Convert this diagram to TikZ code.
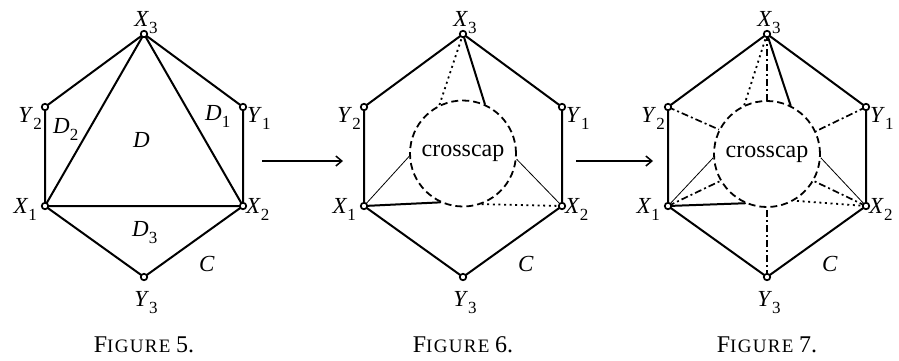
\documentclass[tikz,border=0pt]{standalone}
\usepackage{fontspec}
\setmainfont{Liberation Serif}
\usetikzlibrary{arrows.meta}
\newcommand\vlab[2]{\textit{#1}\raisebox{-7pt}{\fontsize{17}{17}\selectfont #2}}
\newcommand\figcap[1]{{\fontsize{24}{25}\selectfont F}{\fontsize{19}{20}\selectfont\addfontfeature{LetterSpace=7}IGURE} {\fontsize{24}{25}\selectfont #1.}}
\tikzset{
  hexline/.style={line width=2pt, line join=round, line cap=round},
  thinl/.style={line width=0.8pt},
  dotl/.style={line width=1.8pt, dash pattern=on 2pt off 3.6pt},
  dashdotl/.style={line width=1.7pt, dash pattern=on 7pt off 3pt on 2pt off 3pt},
  capcircle/.style={circle, draw, line width=1.8pt, dash pattern=on 7pt off 4pt, minimum size=106pt, inner sep=0pt, font=\fontsize{24}{26}\selectfont},
  vtx/.style={circle, draw, fill=white, line width=1.7pt, minimum size=6.5pt, inner sep=0pt},
  lab/.style={font=\fontsize{23}{25}\selectfont, inner sep=0pt},
  arr/.style={line width=1.5pt, -{Straight Barb[length=6pt,width=10pt,line width=1.5pt]}}
}
\begin{document}
\begin{tikzpicture}[x=1pt,y=-1pt]
\useasboundingbox (0,0) rectangle (899,360);
% ---------- vertex coordinates ----------
\foreach \f/\cx in {a/144,b/463,c/767}{
  \coordinate (\f X3) at (\cx,34);
  \coordinate (\f Y1) at (\cx+99,107);
  \coordinate (\f X2) at (\cx+99,206);
  \coordinate (\f Y3) at (\cx,277);
  \coordinate (\f X1) at (\cx-99,206);
  \coordinate (\f Y2) at (\cx-99,107);
}
% ---------- Figure 5 ----------
\draw[hexline] (aX3) -- (aY1) -- (aX2) -- (aY3) -- (aX1) -- (aY2) -- cycle;
\draw[hexline] (aX1) -- (aX2) -- (aX3) -- cycle;
\node[lab, anchor=base west] (aD2) at (53,133) {\vlab{D}{2}};
\node[lab, anchor=base west] (aD) at (133,147) {\textit{D}};
\node[lab, anchor=base west] (aD1) at (205,120) {\vlab{D}{1}};
\node[lab, anchor=base west] (aD3) at (132,236) {\vlab{D}{3}};
% ---------- Figure 6 ----------
\node[capcircle] (cb) at (463,153.5) {crosscap};
\draw[hexline] (bX3) -- (bY1) -- (bX2) -- (bY3) -- (bX1) -- (bY2) -- cycle;
\draw[dotl] (bX3) -- (cb.116);
\draw[hexline] (bX3) -- (cb.66);
\draw[thinl] (bX1) -- (cb.183);
\draw[hexline] (bX1) -- (cb.245);
\draw[thinl] (bX2) -- (cb.354);
\draw[dotl] (bX2) -- (cb.290);
% ---------- Figure 7 ----------
\node[capcircle] (cc) at (767,154) {crosscap};
\draw[hexline] (cX3) -- (cY1) -- (cX2) -- (cY3) -- (cX1) -- (cY2) -- cycle;
\draw[dotl] (cX3) -- (cc.115);
\draw[hexline] (cX3) -- (cc.64);
\draw[dashdotl] (cX3) -- (cc.90);
\draw[dashdotl] (cY2) -- (cc.153);
\draw[dashdotl] (cY1) -- (cc.25);
\draw[thinl] (cX1) -- (cc.184);
\draw[dashdotl] (cX1) -- (cc.210);
\draw[hexline] (cX1) -- (cc.246);
\draw[dashdotl] (cY3) -- (cc.270);
\draw[dotl] (cX2) -- (cc.300);
\draw[dashdotl] (cX2) -- (cc.330);
\draw[thinl] (cX2) -- (cc.356);
% ---------- vertex markers and labels ----------
\foreach \f/\cx/\n in {a/144/5,b/463/6,c/767/7}{
  \foreach \v in {X1,X2,X3,Y1,Y2,Y3}{
    \node[vtx] (\f m\v) at (\f\v) {};
  }
  \node[lab, anchor=base] (\f lX3) at (\cx+2,26) {\vlab{X}{3}};
  \node[lab, anchor=base east] (\f lY2) at (\cx-102,122) {\vlab{Y}{2}};
  \node[lab, anchor=base west] (\f lY1) at (\cx+103,122) {\vlab{Y}{1}};
  \node[lab, anchor=base east] (\f lX1) at (\cx-107,213) {\vlab{X}{1}};
  \node[lab, anchor=base west] (\f lX2) at (\cx+102,213) {\vlab{X}{2}};
  \node[lab, anchor=base] (\f lY3) at (\cx+2,306) {\vlab{Y}{3}};
  \node[lab, anchor=base west] (\f C) at (\cx+55,271) {\textit{C}};
  \node[lab, anchor=base] (\f cap) at (\cx,352) {\figcap{\n}};
}
% ---------- arrows ----------
\coordinate (ar1s) at (262,161);
\coordinate (ar1e) at (343,161);
\coordinate (ar2s) at (576,161);
\coordinate (ar2e) at (653,161);
\draw[arr] (ar1s) -- (ar1e);
\draw[arr] (ar2s) -- (ar2e);
\end{tikzpicture}
\end{document}
